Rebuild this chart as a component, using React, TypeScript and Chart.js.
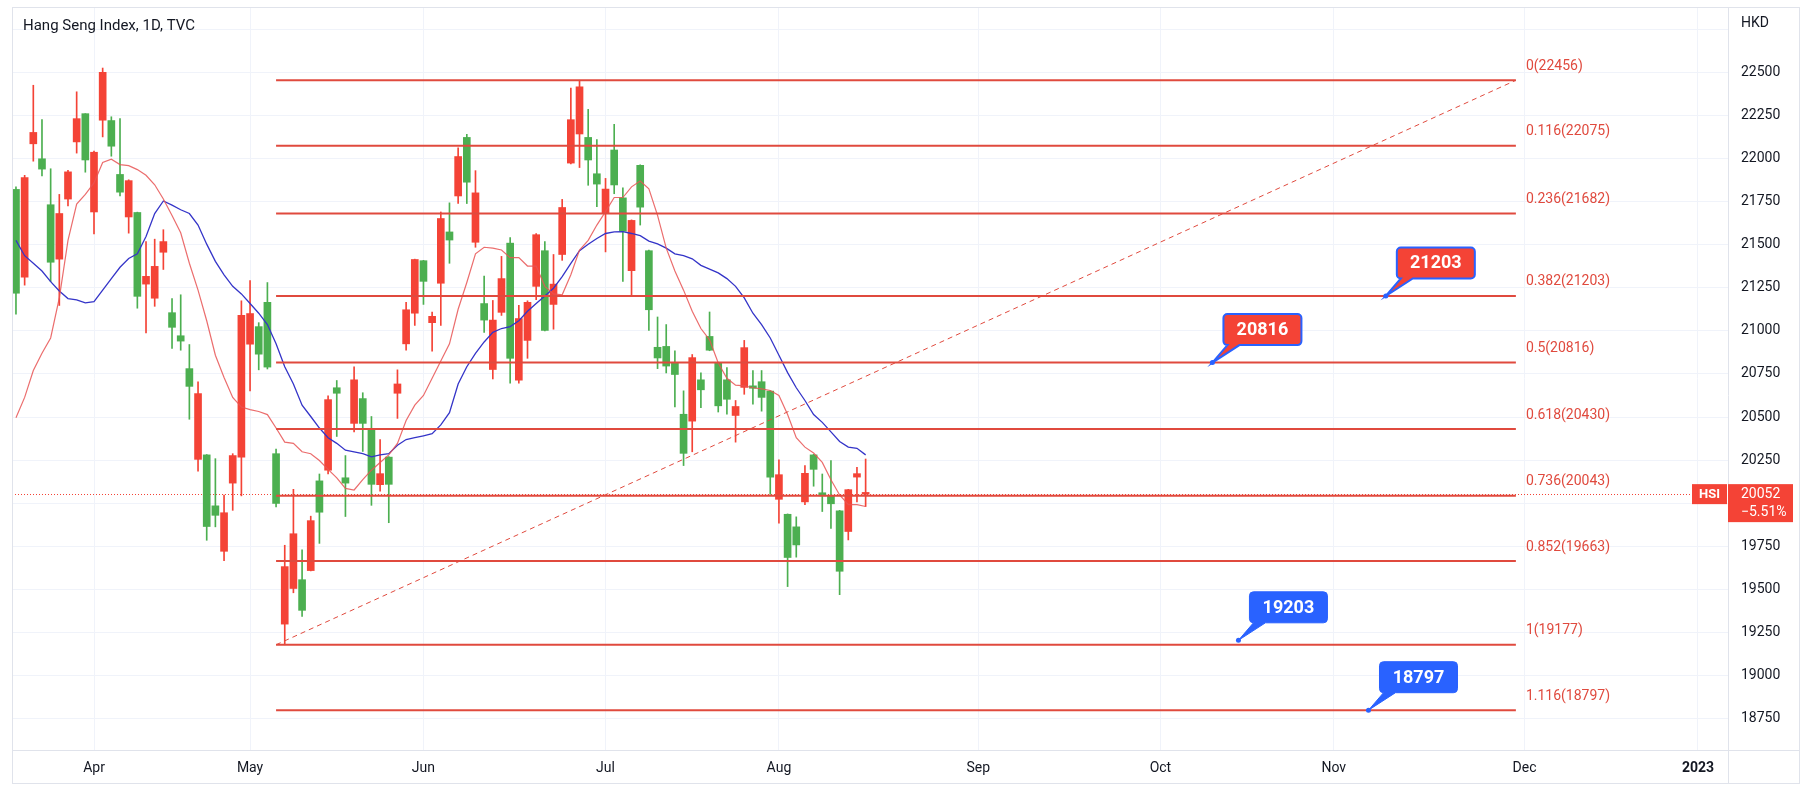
import React, { useEffect, useRef } from "react";
import { Chart, registerables } from "chart.js";

Chart.register(...registerables);

// ---- data (bar index 0 = first trading day of April 2022) ----
const FIRST_INDEX = -9;
const opens = [21219, 21891, 22153, 21940, 21399, 21682, 21924, 22233, 21993, 22038, 22502, 22073, 21806, 21873, 21201, 21317, 21375, 21519, 21021, 20941, 20678, 20636, 19864, 19929, 19944, 20276, 21090, 21101, 20865, 20790, 19998, 19631, 19822, 19377, 19898, 19947, 20601, 20638, 20116, 20716, 20463, 20109, 20171, 20109, 20692, 21123, 21415, 21288, 21085, 21653, 21528, 22013, 21864, 21802, 21063, 21063, 21304, 20841, 21072, 21166, 21559, 21003, 21272, 21717, 22227, 22418, 21993, 21853, 21824, 21848, 21579, 21642, 21719, 21123, 20843, 20796, 20747, 20289, 20845, 20658, 20888, 20565, 20603, 20561, 20903, 20667, 20614, 20151, 20165, 19684, 19757, 20173, 20196, 20042, 19996, 19604, 20078, 20171, 20062];
const highs = [21837, 21904, 22427, 22227, 21942, 21793, 21933, 22389, 22262, 22045, 22527, 22244, 22233, 21878, 21690, 21519, 21533, 21588, 21188, 21210, 20921, 20705, 20282, 20258, 20047, 20287, 21175, 21292, 21048, 21281, 20314, 19755, 20080, 19729, 19924, 20169, 20623, 20712, 20276, 20792, 20641, 20503, 20369, 20270, 20774, 21166, 21417, 21410, 21110, 21691, 21744, 22064, 22142, 21931, 21319, 21177, 21433, 21542, 21148, 21175, 21566, 21519, 21444, 21764, 22411, 22456, 22287, 22111, 21886, 22200, 21831, 21645, 21965, 21470, 21081, 21037, 20885, 20652, 20863, 20756, 21110, 20814, 20787, 20596, 20945, 20770, 20770, 20652, 20251, 19937, 19920, 20218, 20283, 20169, 20247, 19958, 20080, 20207, 20256];
const lows = [21097, 21266, 21986, 21900, 21286, 21148, 21726, 22033, 21922, 21564, 22127, 22015, 21784, 21568, 21132, 20988, 21143, 21357, 20899, 20888, 20487, 20185, 19784, 19862, 19666, 19958, 20042, 20652, 20774, 20779, 19978, 19177, 19479, 19342, 19606, 19766, 20169, 20387, 19922, 20414, 20300, 19987, 20069, 19886, 20492, 20888, 21032, 21154, 20883, 21032, 21393, 21740, 21740, 21486, 20992, 20721, 21090, 20696, 20696, 20841, 21181, 21000, 21010, 21410, 21970, 21949, 21846, 21722, 21459, 21797, 21288, 21210, 21615, 21003, 20781, 20756, 20558, 20218, 20298, 20554, 20885, 20529, 20516, 20354, 20632, 20574, 20534, 20051, 19884, 19515, 19686, 19991, 20098, 19951, 19853, 19468, 19786, 20007, 19980];
const closes = [21822, 21312, 22087, 22000, 21733, 21417, 21766, 22098, 22262, 21691, 22224, 22222, 21909, 21662, 21688, 21272, 21190, 21457, 21106, 20972, 20781, 20254, 20280, 19984, 19720, 20116, 20267, 20923, 21025, 21166, 20287, 19297, 19504, 19555, 19608, 20129, 20191, 20670, 20147, 20463, 20607, 20423, 20107, 20267, 20638, 20925, 21103, 21408, 21048, 21277, 21575, 21784, 22124, 21515, 21159, 20776, 21108, 21510, 20714, 20945, 21259, 21466, 21154, 21444, 21975, 22144, 22124, 21913, 21682, 22051, 21773, 21350, 21962, 21466, 20905, 20910, 20814, 20516, 20476, 20716, 20968, 20812, 20716, 20509, 20672, 20681, 20705, 20650, 20022, 19935, 19862, 20007, 20280, 20060, 20042, 19955, 19835, 20151, 20052];
const maFast = [20496, 20614, 20770, 20870, 20959, 21192, 21526, 21737, 21793, 21860, 21978, 21998, 21966, 21960, 21937, 21904, 21849, 21766, 21671, 21570, 21393, 21237, 21059, 20859, 20730, 20614, 20558, 20543, 20532, 20514, 20436, 20354, 20347, 20298, 20287, 20247, 20196, 20147, 20085, 20076, 20136, 20191, 20236, 20280, 20347, 20480, 20569, 20625, 20725, 20825, 20925, 21126, 21281, 21448, 21486, 21481, 21470, 21426, 21426, 21377, 21377, 21259, 21215, 21210, 21326, 21470, 21526, 21615, 21693, 21775, 21775, 21837, 21871, 21826, 21671, 21481, 21348, 21237, 21114, 21014, 20948, 20814, 20725, 20685, 20681, 20670, 20663, 20654, 20625, 20514, 20380, 20325, 20291, 20236, 20136, 20047, 19991, 19991, 19980];
const maSlow = [21526, 21437, 21393, 21348, 21286, 21232, 21188, 21181, 21163, 21170, 21237, 21304, 21370, 21421, 21448, 21548, 21682, 21755, 21731, 21704, 21682, 21615, 21504, 21404, 21326, 21259, 21215, 21159, 21103, 21037, 20925, 20792, 20692, 20569, 20503, 20436, 20380, 20347, 20307, 20298, 20287, 20269, 20280, 20287, 20336, 20369, 20380, 20391, 20403, 20454, 20525, 20692, 20792, 20870, 20936, 20992, 21014, 21025, 21059, 21114, 21159, 21203, 21248, 21315, 21393, 21466, 21504, 21537, 21566, 21575, 21577, 21566, 21553, 21522, 21506, 21481, 21448, 21437, 21419, 21381, 21359, 21337, 21304, 21259, 21192, 21103, 21037, 20959, 20859, 20758, 20670, 20596, 20514, 20469, 20414, 20358, 20325, 20318, 20280];

const monthTickIndex = [0, 18, 38, 59, 79, 102, 123, 143, 165, 185];
const monthLabels = ["Apr", "May", "Jun", "Jul", "Aug", "Sep", "Oct", "Nov", "Dec", "2023"];
const yTickValues = [18750, 19000, 19250, 19500, 19750, 20000, 20250, 20500, 20750, 21000, 21250, 21500, 21750, 22000, 22250, 22500, 22750];

const fibRatios = ["0", "0.116", "0.236", "0.382", "0.5", "0.618", "0.736", "0.852", "1", "1.116"];
const fibValues = [22456, 22075, 21682, 21203, 20816, 20430, 20043, 19663, 19177, 18797];
const fibStartIndex = 21;
const fibEndIndex = 164;

const calloutIndex = [149, 129, 132, 147];
const calloutValue = [21203, 20816, 19203, 18797];
const calloutText = ["21203", "20816", "19203", "18797"];
const calloutKind = ["red", "red", "blue", "blue"];

const lastPrice = 20052;
const lastChange = "\u22125.51%";
const symbolTag = "HSI";
const titleText = "Hang Seng Index, 1D, TVC";
const currencyText = "HKD";

// ---- styles ----
const GREEN = "#4caf50";
const RED = "#f44336";
const FIB = "#e04a3e";
const BLUE = "#2962ff";
const GRID = "#f0f3fa";
const BORDER = "#e0e3eb";
const TEXT = "#131722";
const FONT = "Roboto, 'Liberation Sans', Arial, sans-serif";

function calloutPath(ctx: CanvasRenderingContext2D, l: number, t: number, w: number, h: number, r: number, ax: number, ay: number) {
  const b = t + h;
  ctx.beginPath();
  ctx.moveTo(l + r, t);
  ctx.lineTo(l + w - r, t);
  ctx.arcTo(l + w, t, l + w, t + r, r);
  ctx.lineTo(l + w, b - r);
  ctx.arcTo(l + w, b, l + w - r, b, r);
  ctx.lineTo(l + 16, b);
  ctx.lineTo(ax, ay);
  ctx.lineTo(l + 4, b);
  ctx.lineTo(l + r, b);
  ctx.arcTo(l, b, l, b - r, r);
  ctx.lineTo(l, t + r);
  ctx.arcTo(l, t, l + r, t, r);
  ctx.closePath();
}

const overlay = {
  id: "overlay",
  beforeDatasetsDraw(chart: any) {
    const { ctx, chartArea, scales } = chart;
    const py = Math.round(scales.y.getPixelForValue(lastPrice)) + 0.5;
    ctx.save();
    ctx.strokeStyle = RED;
    ctx.lineWidth = 1;
    ctx.setLineDash([1, 2]);
    ctx.beginPath();
    ctx.moveTo(chartArea.left, py);
    ctx.lineTo(chartArea.right - 36, py);
    ctx.stroke();
    ctx.restore();
  },
  afterDatasetsDraw(chart: any) {
    const { ctx, scales } = chart;
    const xs = scales.x, ys = scales.y;
    ctx.save();
    // fib labels
    ctx.font = `14px ${FONT}`;
    ctx.fillStyle = FIB;
    ctx.textAlign = "left";
    ctx.textBaseline = "middle";
    const lx = xs.getPixelForValue(fibEndIndex) + 10;
    fibValues.forEach((v, k) => {
      ctx.fillText(`${fibRatios[k]}(${v})`, lx, ys.getPixelForValue(v) - 14);
    });
    // callouts
    calloutValue.forEach((v, k) => {
      const ax = xs.getPixelForValue(calloutIndex[k]);
      const ay = ys.getPixelForValue(v);
      const w = 78, h = 31;
      const l = ax + 11;
      const t = ay - 17.5 - h;
      const isRed = calloutKind[k] === "red";
      calloutPath(ctx, l, t, w, h, 4, ax, ay);
      ctx.fillStyle = isRed ? RED : BLUE;
      ctx.fill();
      ctx.strokeStyle = BLUE;
      ctx.lineWidth = isRed ? 2 : 1;
      ctx.stroke();
      ctx.beginPath();
      ctx.arc(ax, ay, 2.5, 0, Math.PI * 2);
      ctx.fillStyle = BLUE;
      ctx.fill();
      ctx.fillStyle = "#ffffff";
      ctx.font = `bold 18px ${FONT}`;
      ctx.textAlign = "center";
      ctx.textBaseline = "middle";
      ctx.fillText(calloutText[k], l + w / 2, t + h / 2 + 1);
    });
    ctx.restore();
  },
  afterDraw(chart: any) {
    const { ctx, chartArea, scales } = chart;
    ctx.save();
    // frame
    ctx.strokeStyle = BORDER;
    ctx.lineWidth = 1;
    ctx.strokeRect(12.5, 7.5, 1787, 776);
    ctx.beginPath();
    ctx.moveTo(12, chartArea.bottom + 0.5);
    ctx.lineTo(1800, chartArea.bottom + 0.5);
    ctx.moveTo(chartArea.right + 0.5, 7);
    ctx.lineTo(chartArea.right + 0.5, 784);
    ctx.stroke();
    // title & currency
    ctx.fillStyle = TEXT;
    ctx.font = `15px ${FONT}`;
    ctx.textAlign = "left";
    ctx.textBaseline = "middle";
    ctx.fillText(titleText, 23, 26);
    ctx.font = `14px ${FONT}`;
    ctx.fillText(currencyText, chartArea.right + 13, 23);
    // price tags
    const py = scales.y.getPixelForValue(lastPrice);
    ctx.fillStyle = RED;
    ctx.fillRect(chartArea.right - 36, py - 10, 35, 20);
    ctx.fillRect(chartArea.right, py - 10, 65, 38);
    ctx.fillStyle = "#ffffff";
    ctx.font = `bold 13px ${FONT}`;
    ctx.textAlign = "center";
    ctx.fillText(symbolTag, chartArea.right - 18.5, py + 0.5);
    ctx.font = `14px ${FONT}`;
    ctx.textAlign = "left";
    ctx.fillText(String(lastPrice), chartArea.right + 13, py + 0.5);
    ctx.fillText(lastChange, chartArea.right + 13, py + 18.5);
    ctx.restore();
  },
};

export default function App() {
  const ref = useRef<HTMLCanvasElement>(null);
  useEffect(() => {
    const idx = opens.map((_, k) => FIRST_INDEX + k);
    const colors = opens.map((o, k) => (closes[k] >= o ? GREEN : RED));
    const datasets: any[] = [];
    fibValues.forEach((v) => {
      datasets.push({
        type: "line",
        data: [{ x: fibStartIndex, y: v }, { x: fibEndIndex, y: v }],
        borderColor: FIB,
        borderWidth: 2,
        pointRadius: 0,
        order: 1,
      });
    });
    datasets.push({
      type: "line",
      data: [{ x: fibStartIndex, y: fibValues[8] }, { x: fibEndIndex, y: fibValues[0] }],
      borderColor: FIB,
      borderWidth: 1,
      borderDash: [5, 4],
      pointRadius: 0,
      order: 1,
    });
    datasets.push({
      type: "line",
      data: idx.map((x, k) => ({ x, y: maFast[k] })),
      borderColor: "rgba(232, 84, 84, 0.85)",
      borderWidth: 1.2,
      pointRadius: 0,
      order: 2,
    });
    datasets.push({
      type: "line",
      data: idx.map((x, k) => ({ x, y: maSlow[k] })),
      borderColor: "#3434c8",
      borderWidth: 1.3,
      pointRadius: 0,
      order: 2,
    });
    datasets.push({
      type: "bar",
      data: idx.map((x, k) => ({ x, y: [opens[k], closes[k]] })),
      backgroundColor: colors,
      barThickness: 7,
      minBarLength: 1,
      grouped: false,
      order: 3,
    });
    datasets.push({
      type: "bar",
      data: idx.map((x, k) => ({ x, y: [lows[k], highs[k]] })),
      backgroundColor: colors,
      barThickness: 1,
      grouped: false,
      order: 4,
    });

    const chart = new Chart(ref.current as HTMLCanvasElement, {
      type: "bar",
      data: { datasets },
      options: {
        animation: false,
        responsive: false,
        events: [],
        layout: { padding: { left: 12, right: 12, top: 7, bottom: 7 } },
        plugins: { legend: { display: false }, tooltip: { enabled: false } },
        scales: {
          x: {
            type: "linear",
            min: (12 - 94) / 8.67,
            max: (1728 - 94) / 8.67,
            offset: false,
            afterBuildTicks: (s: any) => {
              s.ticks = monthTickIndex.map((v) => ({ value: v }));
            },
            afterFit: (s: any) => {
              s.height = 34;
              s.paddingLeft = 0;
              s.paddingRight = 0;
              s.paddingTop = 0;
              s.paddingBottom = 0;
            },
            grid: { color: GRID, drawTicks: false, offset: false },
            border: { display: false },
            ticks: {
              autoSkip: false,
              maxRotation: 0,
              padding: 10,
              color: TEXT,
              font: (c: any) => ({
                family: FONT,
                size: 14,
                weight: c.tick && c.tick.value === 185 ? "bold" : "normal",
              }),
              callback: (v: any) => {
                const k = monthTickIndex.indexOf(Number(v));
                return k >= 0 ? monthLabels[k] : "";
              },
            },
          } as any,
          y: {
            type: "linear",
            position: "right",
            min: 18565.8,
            max: 22881.6,
            afterBuildTicks: (s: any) => {
              s.ticks = yTickValues.map((v) => ({ value: v }));
            },
            afterFit: (s: any) => {
              s.width = 72;
              s.paddingLeft = 0;
              s.paddingRight = 0;
              s.paddingTop = 0;
              s.paddingBottom = 0;
            },
            grid: { color: GRID, drawTicks: false },
            border: { display: false },
            ticks: {
              padding: 13,
              color: TEXT,
              font: { family: FONT, size: 14 },
              callback: (v: any) => (v === 22750 || v === 20000 ? "" : String(v)),
            },
          } as any,
        },
      } as any,
      plugins: [overlay],
    } as any);
    return () => chart.destroy();
  }, []);

  return (
    <div style={{ position: "fixed", left: 0, top: 0, width: 1812, height: 791, background: "#ffffff" }}>
      <canvas ref={ref} width={1812} height={791} style={{ display: "block" }} />
    </div>
  );
}
